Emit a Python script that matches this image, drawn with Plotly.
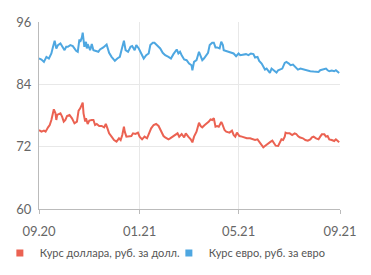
import pandas as pd
import plotly.graph_objects as go

start_date = "2020-09-01"

usd_days = [0, 3, 6, 8, 11, 13, 15, 17, 18, 20, 21, 22, 24, 26, 28, 30, 32, 34, 37, 40, 43, 46, 48, 50, 53, 54, 56, 57, 59, 61,
            64, 66, 68, 70, 73, 76, 79, 81, 83, 85, 88, 91, 94, 97, 99, 101, 103, 104, 106, 109, 112, 114, 117, 120, 122, 125, 128, 131, 134, 136,
            139, 142, 145, 148, 151, 153, 157, 159, 163, 166, 168, 170, 173, 176, 178, 181, 184, 186, 188, 191, 194, 196, 198, 201, 203, 206, 208, 210, 212, 214,
            216, 218, 221, 222, 225, 227, 231, 234, 236, 238, 240, 243, 246, 248, 252, 256, 259, 262, 265, 267, 270, 272, 274, 276, 278, 281, 283, 285, 287, 290,
            292, 294, 296, 298, 299, 301, 304, 307, 310, 312, 314, 316, 320, 323, 326, 329, 331, 333, 336, 339, 341, 343, 346, 348, 350, 352, 355, 358, 360, 362, 364]
usd_values = [75.21, 74.89, 75.08, 74.89, 75.72, 76.17, 77.14, 78.42, 79.19, 78.42, 77.14, 78.10, 78.29, 78.42, 77.78, 76.82, 77.14, 77.91, 78.10, 77.46, 76.49, 76.82, 78.93, 79.38, 80.47, 78.42, 76.82, 77.46, 76.37, 77.01,
              77.14, 77.14, 76.17, 76.37, 75.98, 75.98, 75.72, 76.37, 75.53, 74.57, 73.93, 73.28, 72.96, 73.61, 73.28, 74.25, 75.85, 74.89, 73.93, 73.93, 74.05, 74.57, 74.44, 74.70, 73.93, 73.41, 73.93, 73.61, 74.89, 75.53,
              76.17, 76.37, 75.98, 74.89, 74.05, 73.80, 73.41, 73.61, 74.05, 74.25, 74.57, 73.93, 74.44, 73.80, 74.57, 73.93, 73.41, 72.83, 73.93, 74.89, 76.62, 75.98, 75.72, 76.17, 76.37, 76.82, 77.26, 77.14, 77.46, 75.85,
              75.98, 75.85, 76.75, 76.49, 75.21, 74.89, 74.70, 75.08, 74.25, 73.93, 74.70, 74.05, 73.93, 73.80, 73.61, 73.61, 73.48, 73.28, 73.41, 72.96, 72.51, 71.87, 72.13, 72.32, 72.64, 72.96, 73.16, 72.64, 72.19, 72.13,
              72.64, 73.41, 73.28, 73.93, 74.70, 74.57, 74.57, 74.25, 74.57, 74.44, 74.05, 73.80, 73.61, 73.28, 73.16, 73.41, 73.80, 73.93, 73.61, 73.41, 73.93, 74.38, 74.38, 73.93, 74.05, 73.41, 73.28, 73.09, 73.41, 73.16, 72.83]

eur_days = [0, 3, 6, 9, 12, 15, 17, 19, 21, 23, 26, 28, 31, 33, 35, 38, 41, 45, 47, 49, 50, 52, 53, 55, 57, 58, 59, 62, 64, 66,
            70, 72, 74, 78, 82, 85, 88, 92, 95, 98, 100, 103, 105, 108, 111, 113, 116, 118, 121, 124, 127, 130, 133, 135, 138, 140, 143, 147, 150, 153,
            157, 160, 163, 165, 167, 169, 171, 173, 176, 179, 182, 185, 186, 188, 191, 194, 196, 198, 200, 203, 205, 207, 210, 212, 214, 216, 219, 221, 223, 224,
            227, 231, 236, 239, 242, 244, 248, 251, 254, 257, 260, 262, 265, 267, 270, 272, 274, 276, 278, 280, 282, 284, 286, 288, 290, 292, 295, 298, 300, 303,
            305, 308, 310, 312, 314, 317, 321, 324, 327, 329, 333, 336, 339, 341, 343, 346, 348, 350, 352, 355, 358, 360, 362, 364]
eur_values = [88.97, 88.78, 88.32, 89.29, 88.97, 89.94, 91.23, 92.39, 90.90, 91.55, 91.87, 91.23, 90.58, 91.23, 91.23, 91.55, 91.36, 90.45, 90.26, 92.65, 92.19, 93.03, 93.94, 91.23, 92.19, 90.90, 91.74, 90.58, 91.74, 90.58,
              90.45, 90.26, 90.71, 91.10, 91.68, 90.07, 89.29, 88.52, 88.97, 89.29, 90.58, 92.39, 90.58, 90.26, 91.23, 91.36, 90.58, 91.55, 90.90, 90.07, 88.97, 89.61, 89.94, 91.55, 92.00, 92.00, 91.55, 90.90, 90.07, 89.61,
              89.29, 88.97, 89.81, 90.26, 90.71, 89.94, 90.26, 89.61, 88.78, 88.65, 88.00, 87.68, 86.71, 88.32, 88.65, 90.26, 89.29, 88.65, 88.97, 89.61, 90.07, 91.55, 92.00, 92.00, 91.10, 91.10, 90.90, 92.19, 91.55, 90.58,
              90.45, 90.26, 89.94, 89.42, 89.94, 89.61, 89.81, 89.81, 89.61, 89.94, 89.81, 89.16, 89.29, 88.52, 88.00, 87.49, 86.84, 87.03, 86.52, 86.20, 87.03, 86.71, 86.39, 86.26, 86.71, 86.84, 87.03, 88.13, 88.32, 88.00,
              87.68, 87.81, 87.49, 87.03, 86.84, 87.03, 86.84, 86.65, 86.52, 86.52, 86.45, 86.45, 86.39, 86.71, 86.84, 87.03, 87.03, 86.71, 86.52, 86.65, 86.52, 86.71, 86.39, 86.20]

tick_dates = ["2020-09-01", "2021-01-01", "2021-05-01", "2021-09-01"]
tick_labels = ["09.20", "01.21", "05.21", "09.21"]
y_ticks = [60, 72, 84, 96]

usd_name = "Курс доллара, руб. за долл."
eur_name = "Курс евро, руб. за евро"

RED = "#EB6252"
BLUE = "#4EA7E1"

base = pd.Timestamp(start_date)
usd_x = [base + pd.Timedelta(days=d) for d in usd_days]
eur_x = [base + pd.Timedelta(days=d) for d in eur_days]

fig = go.Figure()
fig.add_trace(go.Scatter(x=usd_x, y=usd_values, mode="lines", line=dict(color=RED, width=2),
                         showlegend=False, name=usd_name))
fig.add_trace(go.Scatter(x=eur_x, y=eur_values, mode="lines", line=dict(color=BLUE, width=2),
                         showlegend=False, name=eur_name))
# legend entries with square swatches
fig.add_trace(go.Scatter(x=[None], y=[None], mode="markers", name=usd_name,
                         marker=dict(symbol="square", size=7, color=RED)))
fig.add_trace(go.Scatter(x=[None], y=[None], mode="markers", name=eur_name,
                         marker=dict(symbol="square", size=7, color=BLUE)))

fig.update_layout(
    width=371, height=275,
    margin=dict(l=39, r=31, t=22, b=66, autoexpand=False),
    paper_bgcolor="white", plot_bgcolor="white",
    font=dict(family="Lato, sans-serif", size=13, color="#666666"),
    legend=dict(orientation="h", x=-0.13, y=-0.235, xanchor="left", yanchor="middle",
                font=dict(size=11, color="#555555"), tracegroupgap=0,
                traceorder="normal", itemwidth=30,
                entrywidth=124, entrywidthmode="pixels"),
)
fig.update_xaxes(
    type="date", range=[tick_dates[0], tick_dates[-1]],
    tickvals=tick_dates, ticktext=tick_labels,
    showgrid=True, gridcolor="#E8E8E8", gridwidth=1,
    showline=True, linecolor="#BBBBBB", linewidth=1,
    ticks="outside", ticklen=4, tickcolor="#BBBBBB",
    ticklabelstandoff=6,
    zeroline=False, fixedrange=True,
)
fig.update_yaxes(
    range=[60, 96], tickvals=y_ticks,
    showgrid=True, gridcolor="#E8E8E8", gridwidth=1,
    showline=True, linecolor="#BBBBBB", linewidth=1,
    ticks="", ticklen=4, ticklabelstandoff=4,
    zeroline=False, fixedrange=True,
)

fig.write_html("out.html")
